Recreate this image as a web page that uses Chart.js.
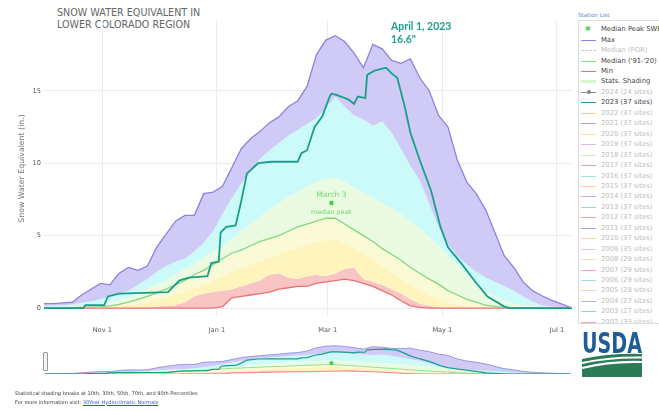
<!DOCTYPE html>
<html>
<head>
<meta charset="utf-8">
<script src="https://cdn.jsdelivr.net/npm/chart.js@4.4.1/dist/chart.umd.min.js"></script>
<style>
body { margin:0; width:659px; height:411px; background:#fff; overflow:hidden; position:relative; font-family:"DejaVu Sans", Verdana, sans-serif; }
#title { position:absolute; left:57px; top:7px; font-size:9.6px; line-height:12px; color:#666; }
#mainChart { position:absolute; left:0; top:0; }
#navChart { position:absolute; left:0; top:338px; }
#handle { position:absolute; left:43px; top:352px; width:3px; height:17px; border:1px solid #999; border-radius:1px; background:#f4f4f4; }
#stationList { position:absolute; left:578px; top:12px; font-size:5.6px; color:#5a8ad0; }
#legendBox { position:absolute; left:578px; top:20px; width:100px; height:302px; border:1px solid #ddd; overflow:hidden; background:#fff; }
.row { position:absolute; left:0; height:10px; width:100px; white-space:nowrap; font-size:6.8px; line-height:10px; }
.sw { position:absolute; left:2px; top:5px; width:15px; height:0; border-top:1.5px solid; }
.dot { position:absolute; left:8px; top:3px; width:4px; height:4px; border-radius:2px; }
.mk { position:absolute; left:6px; top:0; font-size:7px; }
.lbl { position:absolute; left:22px; top:0; }
#foot { position:absolute; left:15px; top:389px; font-size:5px; line-height:8.5px; color:#333; }
#foot a { color:#3355cc; text-decoration:underline; }
#usda { position:absolute; left:580px; top:330px; }
</style>
</head>
<body>
<div id="title">SNOW WATER EQUIVALENT IN<br>LOWER COLORADO REGION</div>
<canvas id="mainChart" width="578" height="340"></canvas>
<canvas id="navChart" width="578" height="42"></canvas>
<div id="handle"></div>
<div id="stationList">Station List</div>
<div id="legendBox"></div>
<svg id="usda" width="66" height="50">
  <text x="2" y="23" font-family="Liberation Sans Narrow, DejaVu Sans Condensed, sans-serif" font-weight="bold" font-size="28" fill="#1f5d96" textLength="60" lengthAdjust="spacingAndGlyphs">USDA</text>
  <path d="M2 29 Q 30 23 62 24 L62 47 L2 47 Z" fill="#2b7b57"/>
  <path d="M2 33 Q 28 27 62 27.5" stroke="#fff" stroke-width="2" fill="none"/>
  <path d="M2 38 Q 30 31 62 32" stroke="#fff" stroke-width="2" fill="none"/>
</svg>
<div id="foot">Statistical shading breaks at 10th, 30th, 50th, 70th, and 90th Percentiles<br>For more information visit: <a>30Year Hydroclimatic Normals</a></div>
<script>
// days since Oct 1
const days = [0,5,10,15,20,25,30,35,40,45,50,55,60,65,70,75,80,85,90,95,100,105,110,115,120,125,130,135,140,145,150,155,160,165,170,175,180,185,190,195,200,205,210,215,220,225,230,235,240,245,250,255,260,265,270,275,280];
const sweMax = [0.3,0.3,0.35,0.4,0.9,1.3,1.7,1.6,2.4,2.8,2.6,2.9,4.2,5.1,6.0,6.4,6.4,7.9,8.0,8.4,9.7,11.0,11.7,12.2,12.8,13.2,13.9,14.3,15.3,17.5,18.5,18.8,18.4,17.6,16.6,18.2,17.9,17.1,16.9,17.2,15.9,15.0,13.3,12.5,10.2,8.7,7.9,6.8,5.2,3.6,2.8,1.8,1.2,0.85,0.55,0.3,0.05];
const sweP90 = [0.15,0.15,0.2,0.25,0.35,0.45,0.6,0.8,1.0,1.2,1.6,2.0,2.5,2.9,3.2,3.4,3.9,4.5,5.3,6.5,7.6,8.6,9.4,10.3,10.9,11.4,11.9,12.3,12.7,13.1,13.8,14.6,13.9,13.3,13.0,12.6,12.9,12.1,11.0,9.8,8.8,7.2,5.6,4.4,3.6,3.0,2.5,2.1,1.8,1.5,1.2,0.8,0.45,0.2,0.1,0.05,0];
const sweP70 = [0.02,0.03,0.05,0.1,0.15,0.2,0.3,0.4,0.55,0.75,1.0,1.3,1.6,1.9,2.3,2.7,3.1,3.5,3.9,4.3,4.8,5.3,5.8,6.3,6.8,7.2,7.7,8.0,8.4,8.7,8.9,9.0,8.7,8.3,8.0,7.6,7.2,6.9,6.5,6.0,5.5,4.9,4.3,3.6,3.0,2.3,1.6,1.2,0.8,0.5,0.3,0.2,0.1,0.05,0,0,0];
const sweMedian = [0,0,0.02,0.03,0.05,0.07,0.1,0.15,0.25,0.4,0.6,0.8,1.05,1.3,1.6,1.9,2.3,2.6,3.0,3.4,3.8,4.0,4.3,4.6,4.8,5.0,5.3,5.6,5.8,6.0,6.2,6.2,5.8,5.4,5.0,4.6,4.1,3.7,3.3,2.8,2.4,2.0,1.65,1.2,0.9,0.6,0.4,0.2,0.12,0.05,0.02,0,0,0,0,0,0];
const sweP30 = [0,0,0,0,0,0.02,0.05,0.1,0.15,0.2,0.3,0.45,0.6,0.75,0.9,1.15,1.4,1.65,1.9,2.2,2.5,2.75,3.0,3.25,3.5,3.75,4.0,4.2,4.4,4.55,4.7,4.8,4.5,4.2,3.8,3.4,2.9,2.5,2.0,1.6,1.2,0.9,0.6,0.4,0.25,0.12,0.05,0.02,0,0,0,0,0,0,0,0,0];
const sweP10 = [0,0,0,0,0,0,0,0,0,0,0,0,0.1,0.15,0.2,0.4,0.8,1.0,1.1,1.2,1.3,1.5,1.7,1.9,2.3,2.4,2.1,2.0,2.2,2.3,2.2,2.4,2.7,2.8,2.0,1.8,1.6,1.3,1.0,0.6,0.3,0.15,0.05,0,0,0,0,0,0,0,0,0,0,0,0,0,0];
const sweMin = [0,0,0,0,0,0,0,0,0,0,0,0,0,0,0,0,0,0,0,0.1,0.7,0.8,0.9,1.0,1.1,1.3,1.4,1.5,1.5,1.7,1.8,1.9,2.0,1.9,1.7,1.5,1.2,0.9,0.5,0.15,0.05,0,0,0,0,0,0,0,0,0,0,0,0,0,0,0,0];
const days2023 = [0,21,22,32,34,40,66,72,77,87,89,93,94,97,102,105,108,114,121,135,137,140,144,148,152,153,156,162,165,167,171,172,176,182,185,188,192,195,200,206,211,215,222,229,236,245,248,281];
const swe2023 = [0,0,0.2,0.2,0.8,1.0,1.1,1.9,2.1,2.2,3.1,3.2,5.2,5.6,5.7,7.4,9.3,10.0,10.1,10.1,10.7,10.9,12.5,13.2,14.6,14.8,14.7,14.4,14.1,14.6,14.5,16.1,16.4,16.6,16.2,15.9,13.9,12.1,10.2,8.1,5.6,4.2,3.1,1.9,0.8,0.1,0,0];
const tickDays = [31, 92, 151, 212, 273];
const tickLabels = ['Nov 1', 'Jan 1', 'Mar 1', 'May 1', 'Jul 1'];
const yTicks = [0, 5, 10, 15];
const medianPeakDay = 153, medianPeakSwe = 7.25;
const peak2023Day = 182, peak2023Swe = 16.6;
const legendYears = [2024,2023,2022,2021,2020,2019,2018,2017,2016,2015,2014,2013,2012,2011,2010,2009,2008,2007,2006,2005,2004,2003,2002];
const legendSites = [24,37,37,37,37,37,37,37,37,37,37,37,37,37,37,35,29,29,29,29,27,27,33];
const yearColors = ['#888','#16a08a','#f5c99b','#a9a3e8','#f3e79b','#e5b6ef','#c9efc2','#f29b9b','#9fe3e3','#f7cfa3','#b4aef0','#9ddbd0','#f0a0a0','#a3a0e6','#f8d4a8','#f0bde8','#e9e6b2','#f2a5b0','#9fe0e6','#f7d0b5','#b7aee8','#8fd8c4','#f2a7a7'];

function pts(xs, ys) {
    return xs.map((x, i) => ({x: x, y: ys[i]}));
}

function buildDatasets(thin) {
    var lw = thin ? 0.8 : 1.3;
    var shade = (ys, col) => ({data: pts(days, ys), fill: '+1', backgroundColor: col, borderColor: 'transparent', borderWidth: 0});
    return [
        {data: pts(days2023, swe2023), borderColor: '#16a08a', borderWidth: thin ? 1.2 : 1.8, fill: false},
        {data: [{x: medianPeakDay, y: medianPeakSwe}], showLine: false, pointStyle: 'crossRot', pointRadius: thin ? 2 : 2.5, borderColor: '#3fcf3f', borderWidth: 2, fill: false},
        {data: pts(days, sweMax), borderColor: '#8c82dc', borderWidth: lw, fill: false},
        {data: pts(days, sweMedian), borderColor: '#82d782', borderWidth: lw, fill: false},
        {data: pts(days, sweMin), borderColor: '#ef7070', borderWidth: lw, fill: false},
        shade(sweMax, '#d0cbf6'),
        shade(sweP90, '#ccfaf8'),
        shade(sweP70, '#eafbe2'),
        shade(sweMedian, '#fafbd6'),
        shade(sweP30, '#fdf4be'),
        shade(sweP10, '#f8c4c4'),
        {data: pts(days, sweMin), borderColor: 'transparent', borderWidth: 0, fill: false}
    ];
}

var annotations = {
    id: 'annotations',
    afterDatasetsDraw(chart) {
        var ctx = chart.ctx, x = chart.scales.x, y = chart.scales.y;
        ctx.save();
        ctx.fillStyle = '#6fd66f';
        ctx.textAlign = 'center';
        ctx.textBaseline = 'middle';
        var mx = x.getPixelForValue(medianPeakDay), my = y.getPixelForValue(medianPeakSwe);
        ctx.font = '7.5px "DejaVu Sans"';
        ctx.fillText('March 3', mx, my - 8);
        ctx.font = '6.3px "DejaVu Sans"';
        ctx.fillText('median peak', mx, my + 9);
        ctx.fillStyle = '#1f9e8e';
        ctx.textAlign = 'left';
        ctx.font = 'bold 10.5px Lato';
        var px = x.getPixelForValue(peak2023Day) + 5, py = y.getPixelForValue(peak2023Swe);
        ctx.fillText('April 1, 2023', px, py - 41);
        ctx.fillText(peak2023Swe + '"', px, py - 28);
        ctx.restore();
    }
};

var tickFont = {family: 'DejaVu Sans', size: 6.6};

new Chart(document.getElementById('mainChart'), {
    type: 'line',
    data: {datasets: buildDatasets(false)},
    plugins: [annotations],
    options: {
        responsive: false,
        animation: false,
        devicePixelRatio: 1,
        events: [],
        layout: {padding: {top: 21, right: 3, left: 0, bottom: 0}},
        elements: {point: {radius: 0}, line: {tension: 0}},
        plugins: {legend: {display: false}, tooltip: {enabled: false}, filler: {drawTime: 'beforeDatasetsDraw'}},
        scales: {
            x: {
                type: 'linear', min: 0, max: 281,
                afterBuildTicks: ax => { ax.ticks = tickDays.map(v => ({value: v})); },
                ticks: {callback: v => tickLabels[tickDays.indexOf(v)], font: tickFont, color: '#555', padding: 10, maxRotation: 0, autoSkip: false},
                grid: {color: '#ececec', drawTicks: false},
                border: {display: false},
                afterFit: s => { s.height = 24; s.paddingLeft = 0; s.paddingRight = 0; }
            },
            y: {
                min: -0.55, max: 19.82,
                afterBuildTicks: ax => { ax.ticks = yTicks.map(v => ({value: v})); },
                ticks: {font: tickFont, color: '#555', padding: 3},
                grid: {color: '#ececec', drawTicks: false},
                border: {display: false},
                title: {display: true, text: 'Snow Water Equivalent (in.)', color: '#777', font: {family: 'DejaVu Sans', size: 7.8}, padding: {top: 17, bottom: 0}},
                afterFit: s => { s.width = 44; s.paddingTop = 0; s.paddingBottom = 0; }
            }
        }
    }
});

new Chart(document.getElementById('navChart'), {
    type: 'line',
    data: {datasets: buildDatasets(true)},
    options: {
        responsive: false,
        animation: false,
        devicePixelRatio: 1,
        events: [],
        layout: {padding: {top: 4, right: 7, left: 45, bottom: 3}},
        elements: {point: {radius: 0}, line: {tension: 0}},
        plugins: {legend: {display: false}, tooltip: {enabled: false}, filler: {drawTime: 'beforeDatasetsDraw'}},
        scales: {
            x: {type: 'linear', min: 0, max: 281, display: false},
            y: {min: 0, max: 20, display: false}
        }
    }
});

// legend
var legendBox = document.getElementById('legendBox');
var legendItems = [
    {text: 'Median Peak SWE', color: '#3fcf3f', kind: 'marker', on: true},
    {text: 'Max', color: '#8c82dc', kind: 'line', on: true},
    {text: 'Median (POR)', color: '#ccc', kind: 'dash', on: false},
    {text: "Median ('91-'20)", color: '#82d782', kind: 'line', on: true},
    {text: 'Min', color: '#ef7070', kind: 'line', on: true},
    {text: 'Stats. Shading', color: '#d6f5d0', kind: 'thick', on: true}
];
legendYears.forEach((yr, i) => {
    legendItems.push({text: yr + ' (' + legendSites[i] + ' sites)', color: yearColors[i], kind: i == 0 ? 'dot' : 'line', on: yr == 2023});
});
legendItems.forEach((item, i) => {
    var row = document.createElement('div');
    row.className = 'row';
    row.style.top = (3.2 + 10.45 * i) + 'px';
    var html = '';
    if (item.kind == 'marker') {
        html += '<span class="mk" style="color:' + item.color + '">\u2716</span>';
    } else {
        var st = 'border-top-color:' + item.color + ';';
        if (item.kind == 'dash') st += 'border-top-style:dashed;';
        if (item.kind == 'thick') st += 'border-top-width:3px;top:4px;';
        html += '<span class="sw" style="' + st + '"></span>';
        if (item.kind == 'dot') html += '<span class="dot" style="background:' + item.color + '"></span>';
    }
    html += '<span class="lbl" style="color:' + (item.on ? '#444' : '#bdbdbd') + '">' + item.text + '</span>';
    row.innerHTML = html;
    legendBox.appendChild(row);
});
</script>
</body>
</html>
